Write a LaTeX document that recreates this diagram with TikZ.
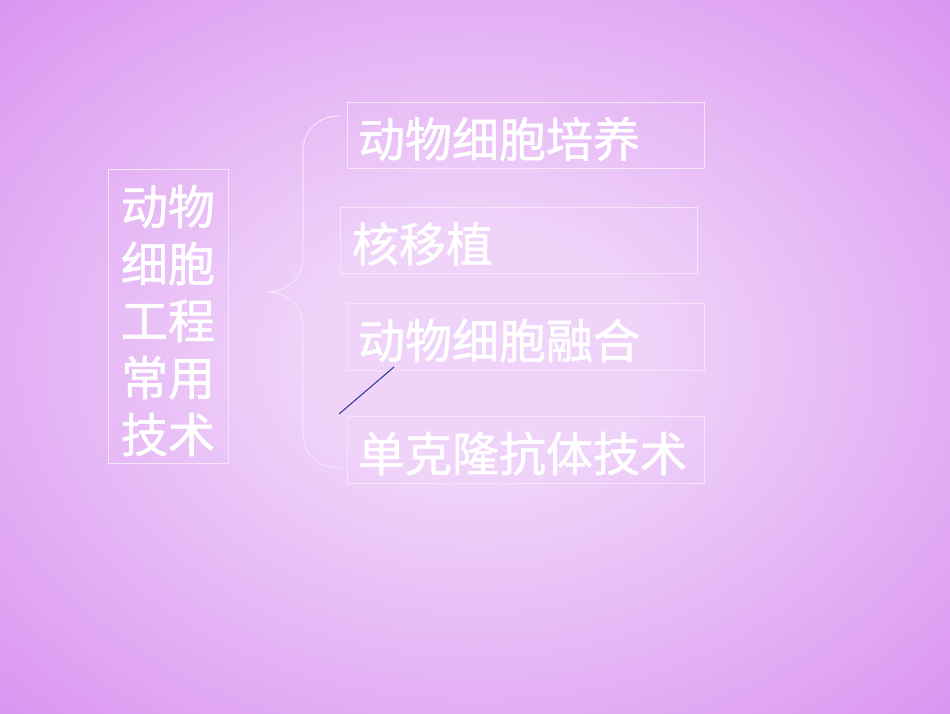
\documentclass[tikz,border=0pt]{standalone}
\usepackage{fontspec}
\setmainfont{Noto Sans CJK SC}
\newfontfamily\cjkf{Noto Sans CJK SC}[FakeBold=1.2]
\definecolor{bgin}{HTML}{EFD3F9}
\definecolor{bgmid}{HTML}{E3AEF4}
\definecolor{bgout}{HTML}{DA94F0}
\definecolor{boxcol}{HTML}{F6E4FB}
\definecolor{navyline}{HTML}{2A3590}
\pgfdeclareradialshading{bgshade}{\pgfpoint{0bp}{0bp}}{color(0bp)=(bgin); color(9bp)=(bgin); color(25bp)=(bgmid); color(36bp)=(bgout); color(50bp)=(bgout)}
\newcommand{\lowtxt}[2][-4pt]{\raisebox{#1}[\height][\depth]{#2}}
\begin{document}
\begin{tikzpicture}[x=1pt,y=-1pt,
  boxst/.style={draw=boxcol, line width=1pt, inner ysep=0pt, align=left, text=white,
    font=\cjkf\fontsize{47}{57}\selectfont, minimum height=66pt},
  leftbox/.style={draw=boxcol, line width=1pt, inner sep=0pt, text=white,
    font=\cjkf\fontsize{47}{57}\selectfont, minimum width=120pt, minimum height=294pt},
  bracest/.style={draw=boxcol, line width=1.1pt},
  markline/.style={draw=navyline, line width=1pt}]
\shade[shading=bgshade] (0,0) rectangle (950,713);
\useasboundingbox (0,0) rectangle (950,713);

\node[leftbox] (main) at (168,316) {\lowtxt[-11pt]{\begin{tabular}{@{}c@{}}动物\\细胞\\工程\\常用\\技术\end{tabular}}};

\node[boxst, inner xsep=11pt, text width=335pt] (t1) at (525.5,135) {\lowtxt{动物细胞培养}};
\node[boxst, inner xsep=12pt, text width=333pt] (t2) at (518.5,240) {\lowtxt{核移植}};
\node[boxst, inner xsep=11pt, text width=335pt, minimum height=67pt] (t3) at (525.5,336.5) {\lowtxt{动物细胞融合}};
\node[boxst, inner xsep=11pt, text width=335pt, minimum height=67pt] (t4) at (525.5,449.5) {\lowtxt{单克隆抗体技术}};

\coordinate (bT) at (340,116);
\coordinate (bM) at (266,292);
\coordinate (bB) at (340,468);
\draw[bracest] (bT) .. controls (318,116) and (303,130) .. (303,152) -- (303,256)
  .. controls (303,278) and (288,292) .. (bM)
  .. controls (288,292) and (303,306) .. (303,328) -- (303,432)
  .. controls (303,454) and (318,468) .. (bB);

\coordinate (lA) at (339,414);
\coordinate (lB) at (394,367);
\draw[markline] (lA) -- (lB);
\end{tikzpicture}
\end{document}
